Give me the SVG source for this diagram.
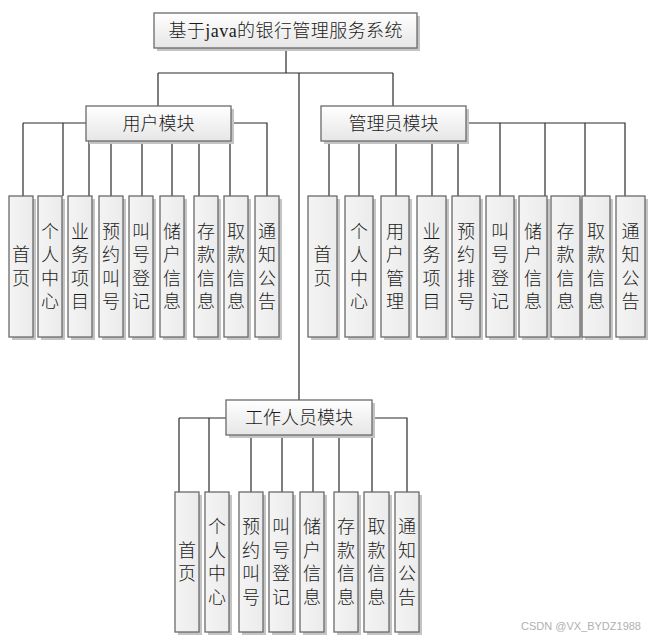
<svg xmlns="http://www.w3.org/2000/svg" width="655" height="641" viewBox="0 0 655 641">
<defs>
<linearGradient id="g" x1="0" y1="0" x2="0" y2="1">
<stop offset="0" stop-color="#ffffff"/>
<stop offset="1" stop-color="#e6e6e6"/>
</linearGradient>
<linearGradient id="gv" x1="0" y1="0" x2="1" y2="0">
<stop offset="0" stop-color="#f4f4f4"/>
<stop offset="1" stop-color="#ebebeb"/>
</linearGradient>
<style>
.sh{fill:#c4c4c4}
.bx{fill:url(#g);stroke:#6a6a6a;stroke-width:1.3}
.cb{fill:url(#gv);stroke:#6a6a6a;stroke-width:1.3}
.t{font-family:"Liberation Serif","Noto Sans CJK SC",serif;font-size:18px;font-weight:300;fill:#1a1a1a;text-anchor:middle}
.c{stroke:#2a2a2a;stroke-width:1.2;fill:none}
.wm{font-family:"Liberation Sans",sans-serif;font-size:11px;fill:#b0b0b0}
</style>
</defs>
<rect width="655" height="641" fill="#ffffff"/>
<g id="connectors" class="c">
<path d="M286 48V73M158 73H393M158 73V106M393 73V106M299 73V400"/>
<path d="M23 123H86M23 123V196M63 123V196M231 123H267V196M89 141V196M111 141V196M142 141V196M172 141V196M199 141V196M230 141V196"/>
<path d="M466 123H625V196M329 141V196M359 141V196M396 141V196M432 141V196M458 141V196M500 123V196M545 123V196M585 123V196"/>
<path d="M179 418H226M179 418V492M209 418V492M372 418H407V492M251 435V492M282 435V492M313 435V492M339 435V492M372 435V492"/>
</g>
<g id="title"><rect class="sh" x="157" y="16" width="263" height="35"/><rect class="bx" x="154" y="13" width="263" height="35"/><text class="t" x="285.5" y="37" textLength="234">基于java的银行管理服务系统</text></g>
<g id="user"><rect class="sh" x="89" y="109" width="145" height="35"/><rect class="bx" x="86" y="106" width="145" height="35"/><text class="t" x="158.5" y="130">用户模块</text></g>
<g id="admin"><rect class="sh" x="324" y="109" width="145" height="35"/><rect class="bx" x="321" y="106" width="145" height="35"/><text class="t" x="393.5" y="130">管理员模块</text></g>
<g id="worker"><rect class="sh" x="229" y="403" width="146" height="35"/><rect class="bx" x="226" y="400" width="146" height="35"/><text class="t" x="299" y="424">工作人员模块</text></g>

<g id="u1"><rect class="sh" x="12" y="199" width="24" height="141"/><rect class="cb" x="9" y="196" width="24" height="141"/><text class="t"><tspan x="21" y="261">首</tspan><tspan x="21" y="284.5">页</tspan></text></g>
<g id="u2"><rect class="sh" x="41" y="199" width="24" height="141"/><rect class="cb" x="38" y="196" width="24" height="141"/><text class="t"><tspan x="50" y="237.5">个</tspan><tspan x="50" y="261">人</tspan><tspan x="50" y="284.5">中</tspan><tspan x="50" y="308">心</tspan></text></g>
<g id="u3"><rect class="sh" x="71" y="199" width="24" height="141"/><rect class="cb" x="68" y="196" width="24" height="141"/><text class="t"><tspan x="80" y="237.5">业</tspan><tspan x="80" y="261">务</tspan><tspan x="80" y="284.5">项</tspan><tspan x="80" y="308">目</tspan></text></g>
<g id="u4"><rect class="sh" x="102" y="199" width="24" height="141"/><rect class="cb" x="99" y="196" width="24" height="141"/><text class="t"><tspan x="111" y="237.5">预</tspan><tspan x="111" y="261">约</tspan><tspan x="111" y="284.5">叫</tspan><tspan x="111" y="308">号</tspan></text></g>
<g id="u5"><rect class="sh" x="132" y="199" width="24" height="141"/><rect class="cb" x="129" y="196" width="24" height="141"/><text class="t"><tspan x="141" y="237.5">叫</tspan><tspan x="141" y="261">号</tspan><tspan x="141" y="284.5">登</tspan><tspan x="141" y="308">记</tspan></text></g>
<g id="u6"><rect class="sh" x="163" y="199" width="24" height="141"/><rect class="cb" x="160" y="196" width="24" height="141"/><text class="t"><tspan x="172" y="237.5">储</tspan><tspan x="172" y="261">户</tspan><tspan x="172" y="284.5">信</tspan><tspan x="172" y="308">息</tspan></text></g>
<g id="u7"><rect class="sh" x="197" y="199" width="24" height="141"/><rect class="cb" x="194" y="196" width="24" height="141"/><text class="t"><tspan x="206" y="237.5">存</tspan><tspan x="206" y="261">款</tspan><tspan x="206" y="284.5">信</tspan><tspan x="206" y="308">息</tspan></text></g>
<g id="u8"><rect class="sh" x="227" y="199" width="24" height="141"/><rect class="cb" x="224" y="196" width="24" height="141"/><text class="t"><tspan x="236" y="237.5">取</tspan><tspan x="236" y="261">款</tspan><tspan x="236" y="284.5">信</tspan><tspan x="236" y="308">息</tspan></text></g>
<g id="u9"><rect class="sh" x="258" y="199" width="24" height="141"/><rect class="cb" x="255" y="196" width="24" height="141"/><text class="t"><tspan x="267" y="237.5">通</tspan><tspan x="267" y="261">知</tspan><tspan x="267" y="284.5">公</tspan><tspan x="267" y="308">告</tspan></text></g>

<g id="a1"><rect class="sh" x="311" y="199" width="29" height="141"/><rect class="cb" x="308" y="196" width="29" height="141"/><text class="t"><tspan x="322.5" y="261">首</tspan><tspan x="322.5" y="284.5">页</tspan></text></g>
<g id="a2"><rect class="sh" x="348" y="199" width="28" height="141"/><rect class="cb" x="345" y="196" width="28" height="141"/><text class="t"><tspan x="359" y="237.5">个</tspan><tspan x="359" y="261">人</tspan><tspan x="359" y="284.5">中</tspan><tspan x="359" y="308">心</tspan></text></g>
<g id="a3"><rect class="sh" x="384" y="199" width="28" height="141"/><rect class="cb" x="381" y="196" width="28" height="141"/><text class="t"><tspan x="395" y="237.5">用</tspan><tspan x="395" y="261">户</tspan><tspan x="395" y="284.5">管</tspan><tspan x="395" y="308">理</tspan></text></g>
<g id="a4"><rect class="sh" x="420" y="199" width="29" height="141"/><rect class="cb" x="417" y="196" width="29" height="141"/><text class="t"><tspan x="431.5" y="237.5">业</tspan><tspan x="431.5" y="261">务</tspan><tspan x="431.5" y="284.5">项</tspan><tspan x="431.5" y="308">目</tspan></text></g>
<g id="a5"><rect class="sh" x="455" y="199" width="28" height="141"/><rect class="cb" x="452" y="196" width="28" height="141"/><text class="t"><tspan x="466" y="237.5">预</tspan><tspan x="466" y="261">约</tspan><tspan x="466" y="284.5">排</tspan><tspan x="466" y="308">号</tspan></text></g>
<g id="a6"><rect class="sh" x="489" y="199" width="28" height="141"/><rect class="cb" x="486" y="196" width="28" height="141"/><text class="t"><tspan x="500" y="237.5">叫</tspan><tspan x="500" y="261">号</tspan><tspan x="500" y="284.5">登</tspan><tspan x="500" y="308">记</tspan></text></g>
<g id="a7"><rect class="sh" x="522" y="199" width="28" height="141"/><rect class="cb" x="519" y="196" width="28" height="141"/><text class="t"><tspan x="533" y="237.5">储</tspan><tspan x="533" y="261">户</tspan><tspan x="533" y="284.5">信</tspan><tspan x="533" y="308">息</tspan></text></g>
<g id="a8"><rect class="sh" x="554" y="199" width="29" height="141"/><rect class="cb" x="551" y="196" width="29" height="141"/><text class="t"><tspan x="565.5" y="237.5">存</tspan><tspan x="565.5" y="261">款</tspan><tspan x="565.5" y="284.5">信</tspan><tspan x="565.5" y="308">息</tspan></text></g>
<g id="a9"><rect class="sh" x="585" y="199" width="28" height="141"/><rect class="cb" x="582" y="196" width="28" height="141"/><text class="t"><tspan x="596" y="237.5">取</tspan><tspan x="596" y="261">款</tspan><tspan x="596" y="284.5">信</tspan><tspan x="596" y="308">息</tspan></text></g>
<g id="a10"><rect class="sh" x="619" y="199" width="29" height="141"/><rect class="cb" x="616" y="196" width="29" height="141"/><text class="t"><tspan x="630.5" y="237.5">通</tspan><tspan x="630.5" y="261">知</tspan><tspan x="630.5" y="284.5">公</tspan><tspan x="630.5" y="308">告</tspan></text></g>

<g id="w1"><rect class="sh" x="178" y="495" width="24" height="140"/><rect class="cb" x="175" y="492" width="24" height="140"/><text class="t"><tspan x="187" y="556.5">首</tspan><tspan x="187" y="580">页</tspan></text></g>
<g id="w2"><rect class="sh" x="208" y="495" width="24" height="140"/><rect class="cb" x="205" y="492" width="24" height="140"/><text class="t"><tspan x="217" y="533">个</tspan><tspan x="217" y="556.5">人</tspan><tspan x="217" y="580">中</tspan><tspan x="217" y="603.5">心</tspan></text></g>
<g id="w3"><rect class="sh" x="242" y="495" width="24" height="140"/><rect class="cb" x="239" y="492" width="24" height="140"/><text class="t"><tspan x="251" y="533">预</tspan><tspan x="251" y="556.5">约</tspan><tspan x="251" y="580">叫</tspan><tspan x="251" y="603.5">号</tspan></text></g>
<g id="w4"><rect class="sh" x="272" y="495" width="24" height="140"/><rect class="cb" x="269" y="492" width="24" height="140"/><text class="t"><tspan x="281" y="533">叫</tspan><tspan x="281" y="556.5">号</tspan><tspan x="281" y="580">登</tspan><tspan x="281" y="603.5">记</tspan></text></g>
<g id="w5"><rect class="sh" x="303" y="495" width="24" height="140"/><rect class="cb" x="300" y="492" width="24" height="140"/><text class="t"><tspan x="312" y="533">储</tspan><tspan x="312" y="556.5">户</tspan><tspan x="312" y="580">信</tspan><tspan x="312" y="603.5">息</tspan></text></g>
<g id="w6"><rect class="sh" x="337" y="495" width="24" height="140"/><rect class="cb" x="334" y="492" width="24" height="140"/><text class="t"><tspan x="346" y="533">存</tspan><tspan x="346" y="556.5">款</tspan><tspan x="346" y="580">信</tspan><tspan x="346" y="603.5">息</tspan></text></g>
<g id="w7"><rect class="sh" x="367" y="495" width="25" height="140"/><rect class="cb" x="364" y="492" width="25" height="140"/><text class="t"><tspan x="376.5" y="533">取</tspan><tspan x="376.5" y="556.5">款</tspan><tspan x="376.5" y="580">信</tspan><tspan x="376.5" y="603.5">息</tspan></text></g>
<g id="w8"><rect class="sh" x="398" y="495" width="24" height="140"/><rect class="cb" x="395" y="492" width="24" height="140"/><text class="t"><tspan x="407" y="533">通</tspan><tspan x="407" y="556.5">知</tspan><tspan x="407" y="580">公</tspan><tspan x="407" y="603.5">告</tspan></text></g>

<text class="wm" x="521" y="630">CSDN @VX_BYDZ1988</text>
</svg>
